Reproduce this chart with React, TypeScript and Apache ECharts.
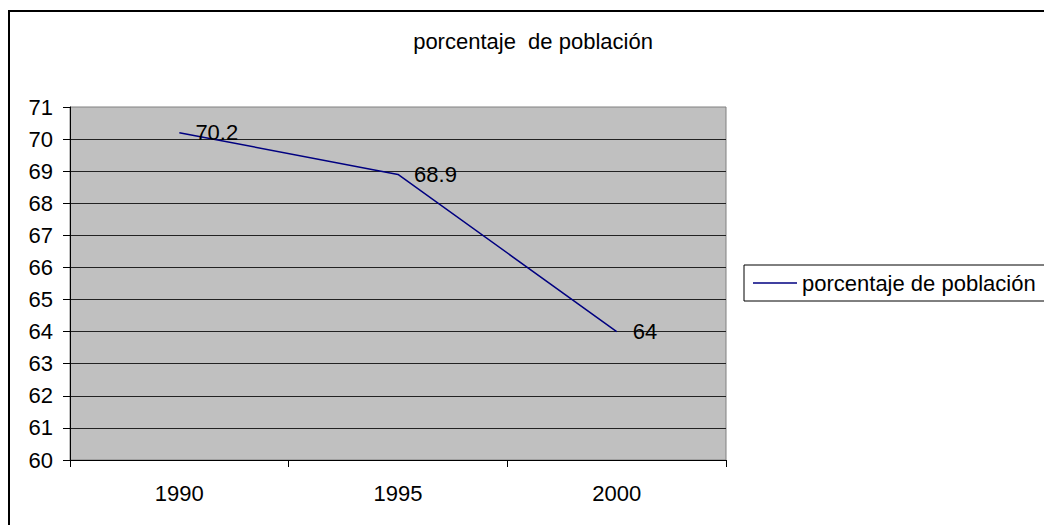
import React, { useEffect, useRef } from "react";
import * as echarts from "echarts";

const categories = ["1990", "1995", "2000"];
const values = [70.2, 68.9, 64];
const seriesName = "porcentaje de población";
const titleText = "porcentaje  de población";

const FONT = "'Liberation Sans', Arial, sans-serif";
const FS = 22;

export default function App() {
  const ref = useRef<HTMLDivElement>(null);
  useEffect(() => {
    if (!ref.current) return;
    const chart = echarts.init(ref.current, null, { renderer: "svg" });
    chart.setOption({
      animation: false,
      backgroundColor: "#ffffff",
      textStyle: { fontFamily: FONT },
      title: {
        text: titleText,
        left: 533,
        top: 30,
        padding: 0,
        textAlign: "center",
        textStyle: { fontFamily: FONT, fontSize: FS, fontWeight: "normal", color: "#000" },
      },
      legend: {
        left: 744,
        top: 265,
        orient: "vertical",
        padding: [7, 40, 7, 9],
        borderColor: "#000",
        borderWidth: 1,
        itemWidth: 44,
        itemHeight: 14,
        textStyle: { fontFamily: FONT, fontSize: FS, color: "#000" },
        data: [{ name: seriesName, icon: "path://M0,7L44,7L44,8.5L0,8.5Z" }],
      },
      graphic: [
        {
          type: "rect",
          shape: { x: 9, y: 11, width: 1200, height: 700 },
          style: { fill: "none", stroke: "#000", lineWidth: 2 },
          silent: true,
        },
      ],
      grid: {
        left: 70,
        right: 318,
        top: 107,
        bottom: 65,
        show: true,
        backgroundColor: "#c0c0c0",
        borderColor: "#808080",
        borderWidth: 1,
      },
      xAxis: {
        type: "category",
        data: categories,
        boundaryGap: true,
        axisLine: { show: true, lineStyle: { color: "#000", width: 1 } },
        axisTick: { show: true, length: 7, alignWithLabel: false, lineStyle: { color: "#000" } },
        axisLabel: { fontFamily: FONT, fontSize: FS, color: "#000", margin: 22 },
        splitLine: { show: false },
      },
      yAxis: {
        type: "value",
        min: 60,
        max: 71,
        interval: 1,
        axisLine: { show: true, lineStyle: { color: "#000", width: 1 } },
        axisTick: { show: true, length: 7, lineStyle: { color: "#000" } },
        axisLabel: { fontFamily: FONT, fontSize: FS, color: "#000", margin: 17 },
        splitLine: { show: true, showMaxLine: false, lineStyle: { color: "#222", width: 1 } },
      },
      series: [
        {
          name: seriesName,
          type: "line",
          data: values,
          symbol: "circle",
          symbolSize: 0.1,
          showSymbol: true,
          color: "#000080",
          itemStyle: { color: "#000080" },
          lineStyle: { color: "#000080", width: 1.5 },
          label: {
            show: true,
            position: "right",
            distance: 16,
            fontFamily: FONT,
            fontSize: FS,
            color: "#000",
          },
        },
      ],
    });
    return () => chart.dispose();
  }, []);
  return (
    <div
      ref={ref}
      style={{ position: "absolute", left: 0, top: 0, width: 1044, height: 525 }}
    />
  );
}
